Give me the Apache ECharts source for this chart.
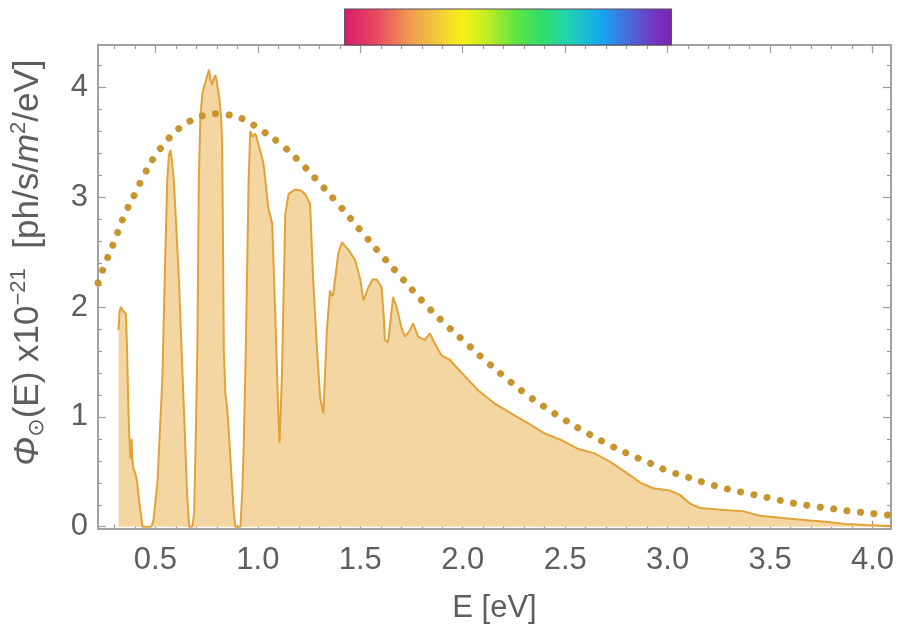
<!DOCTYPE html>
<html><head><meta charset="utf-8">
<script src="https://cdn.jsdelivr.net/npm/echarts@6/dist/echarts.min.js"></script>
<style>html,body{margin:0;padding:0;background:#fff}#c{width:904px;height:638px}</style>
</head><body><div id="c"></div>
<script>
// Measured solar spectrum (E in eV, flux x1e-21)
const spectrumE = [0.32,0.325,0.331,0.34,0.356,0.362,0.368,0.372,0.378,0.384,0.388,0.394,0.40,0.41,0.42,0.437,0.48,0.49,0.51,0.534,0.55,0.558,0.566,0.573,0.58,0.59,0.60,0.615,0.63,0.64,0.655,0.665,0.68,0.689,0.697,0.705,0.712,0.72,0.73,0.737,0.745,0.752,0.761,0.768,0.777,0.785,0.793,0.80,0.812,0.82,0.826,0.83,0.834,0.842,0.85,0.858,0.87,0.882,0.89,0.915,0.925,0.931,0.94,0.947,0.955,0.963,0.975,0.988,1.0,1.015,1.028,1.04,1.05,1.07,1.085,1.10,1.106,1.117,1.134,1.15,1.182,1.21,1.23,1.255,1.27,1.288,1.304,1.32,1.337,1.352,1.362,1.368,1.393,1.41,1.442,1.474,1.50,1.515,1.54,1.56,1.58,1.604,1.615,1.62,1.636,1.66,1.677,1.70,1.717,1.74,1.758,1.782,1.815,1.84,1.863,1.896,1.936,1.995,2.076,2.157,2.238,2.32,2.40,2.48,2.56,2.64,2.72,2.80,2.868,2.93,3.01,3.06,3.11,3.16,3.29,3.37,3.45,3.56,3.68,3.77,3.87,3.97,4.05,4.09];
const spectrumFlux = [1.79,1.95,2.0,1.97,1.94,1.6,1.1,0.85,0.62,0.8,0.6,0.52,0.5,0.42,0.25,0.0,0.0,0.05,0.4,1.34,2.6,3.15,3.38,3.43,3.35,3.15,2.8,2.25,1.5,1.03,0.3,0.0,0.0,0.12,0.8,1.64,3.15,3.75,3.95,4.0,4.05,4.1,4.16,4.08,4.02,4.08,4.11,4.05,3.9,3.75,3.5,2.6,1.6,1.2,1.09,0.88,0.5,0.15,0.0,0.0,0.35,0.73,1.5,2.25,3.15,3.6,3.55,3.58,3.5,3.4,3.3,3.1,2.91,2.76,1.94,1.03,0.76,1.34,2.85,3.03,3.07,3.06,3.03,2.94,2.25,1.64,1.18,1.03,1.79,2.15,2.1,2.12,2.49,2.59,2.52,2.43,2.25,2.06,2.18,2.25,2.25,2.18,1.9,1.70,1.68,2.09,2.0,1.82,1.73,1.78,1.85,1.73,1.70,1.76,1.67,1.56,1.52,1.40,1.24,1.12,1.03,0.94,0.85,0.79,0.71,0.67,0.59,0.49,0.40,0.35,0.33,0.29,0.21,0.17,0.15,0.14,0.10,0.08,0.06,0.045,0.025,0.015,0.01,0.008];
// Blackbody (dotted) curve
const planckE = [0.22,0.25,0.30,0.35,0.40,0.45,0.50,0.55,0.60,0.65,0.70,0.75,0.80,0.85,0.90,0.95,1.0,1.1,1.2,1.3,1.4,1.5,1.6,1.7,1.8,1.9,2.0,2.1,2.2,2.3,2.4,2.5,2.6,2.7,2.8,2.9,3.0,3.1,3.2,3.3,3.4,3.5,3.6,3.7,3.8,3.9,4.0,4.09];
const planckFlux = [2.22,2.37,2.60,2.84,3.03,3.22,3.38,3.50,3.60,3.67,3.72,3.75,3.76,3.75,3.73,3.69,3.63,3.50,3.33,3.13,2.92,2.70,2.48,2.27,2.06,1.87,1.70,1.53,1.37,1.22,1.09,0.97,0.86,0.76,0.67,0.59,0.51,0.45,0.39,0.34,0.30,0.26,0.22,0.19,0.165,0.14,0.12,0.105];
const xMajorTicks = [0.5,1.0,1.5,2.0,2.5,3.0,3.5,4.0];
const xMinorTicks = [0.3,0.4,0.6,0.7,0.8,0.9,1.1,1.2,1.3,1.4,1.6,1.7,1.8,1.9,2.1,2.2,2.3,2.4,2.6,2.7,2.8,2.9,3.1,3.2,3.3,3.4,3.6,3.7,3.8,3.9,4.0];
const yMajorTicks = [0,1,2,3,4];
const yMinorTicks = [0.2,0.4,0.6,0.8,1.2,1.4,1.6,1.8,2.2,2.4,2.6,2.8,3.2,3.4,3.6,3.8,4.2];
const xRange = [0.22, 4.09];
const yRange = [-0.016, 4.385];
const colorbarE = [1.424, 3.018];

const FONT = 'Liberation Sans, Arial, DejaVu Sans, sans-serif';
const TXT = '#5e5e5e';
const FRAME = '#9c9c9c';

function xAx(pos, ticks, len, labels) {
  return {
    type: 'value', position: pos, min: xRange[0], max: xRange[1],
    axisLine: { show: true, onZero: false, lineStyle: { color: FRAME, width: 1.5 } },
    axisTick: { show: true, inside: true, length: len, customValues: ticks, lineStyle: { color: FRAME, width: 1.2 } },
    axisLabel: labels ? { show: true, customValues: ticks, formatter: v => v.toFixed(1), fontSize: 31, color: TXT, fontFamily: FONT, margin: 16 } : { show: false },
    splitLine: { show: false }
  };
}
function yAx(pos, ticks, len, labels) {
  return {
    type: 'value', position: pos, min: yRange[0], max: yRange[1],
    axisLine: { show: true, onZero: false, lineStyle: { color: FRAME, width: 1.5 } },
    axisTick: { show: true, inside: true, length: len, customValues: ticks, lineStyle: { color: FRAME, width: 1.2 } },
    axisLabel: labels ? { show: true, customValues: ticks, formatter: v => String(v), fontSize: 31, color: TXT, fontFamily: FONT, margin: 10 } : { show: false },
    splitLine: { show: false }
  };
}

const xAxes = [xAx('bottom', xMajorTicks, 8, true), xAx('bottom', xMinorTicks, 4, false), xAx('top', xMajorTicks, 8, false), xAx('top', xMinorTicks, 4, false)];
Object.assign(xAxes[0], {
  name: 'E [eV]', nameLocation: 'middle', nameGap: 64,
  nameTextStyle: { fontSize: 31, color: TXT, fontFamily: FONT }
});
const yAxes = [yAx('left', yMajorTicks, 8, true), yAx('left', yMinorTicks, 4, false), yAx('right', yMajorTicks, 8, false), yAx('right', yMinorTicks, 4, false)];
Object.assign(yAxes[0], {
  name: '{it|Φ}{sub|⊙}{n|(E) x10}{sup|−21}{n|  [ph/s/}{it|m}{sup|2}{n|/eV]}',
  nameLocation: 'middle', nameRotate: 90, nameGap: 50,
  nameTextStyle: {
    color: TXT, fontFamily: FONT, fontSize: 35, padding: [0, 0, 0, 48],
    rich: {
      n: { fontSize: 35, color: TXT, fontFamily: FONT, lineHeight: 40 },
      it: { fontSize: 35, color: TXT, fontFamily: FONT, fontStyle: 'italic', lineHeight: 40 },
      sup: { fontSize: 22, color: TXT, fontFamily: FONT, verticalAlign: 'top', lineHeight: 40, padding: [0, 0, 16, 0] },
      sub: { fontSize: 22, color: TXT, fontFamily: 'DejaVu Sans, sans-serif', verticalAlign: 'bottom', lineHeight: 40, padding: [12, 0, 0, 0] }
    }
  }
});

const chart = echarts.init(document.getElementById('c'), null, { renderer: 'canvas' });
const option = {
  animation: false,
  backgroundColor: '#ffffff',
  grid: { left: 96, right: 13, top: 45, bottom: 109.5, containLabel: false },
  xAxis: xAxes,
  yAxis: yAxes,
  series: [
    {
      type: 'line', xAxisIndex: 0, yAxisIndex: 0, symbol: 'none', z: 2,
      data: spectrumE.map((e, i) => [e, spectrumFlux[i]]),
      lineStyle: { color: '#e2a23a', width: 2 },
      areaStyle: { color: '#f4d6a2', opacity: 1 }
    },
    {
      type: 'line', xAxisIndex: 0, yAxisIndex: 0, symbol: 'none', smooth: true, z: 3,
      data: planckE.map((e, i) => [e, planckFlux[i]]),
      lineStyle: { color: '#c8942e', width: 7, type: [0.01, 13.5], cap: 'round' }
    }
  ]
};
chart.setOption(option);

const x0 = chart.convertToPixel({ xAxisIndex: 0 }, colorbarE[0]);
const x1 = chart.convertToPixel({ xAxisIndex: 0 }, colorbarE[1]);
const yTop = chart.convertToPixel({ yAxisIndex: 0 }, yRange[1]);
chart.setOption({
  graphic: [{
    type: 'rect', z: 10,
    shape: { x: x0, y: 9, width: x1 - x0, height: yTop - 9 },
    style: {
      fill: new echarts.graphic.LinearGradient(0, 0, 1, 0, [
        { offset: 0, color: '#d81a6c' },
        { offset: 0.1, color: '#ea4a62' },
        { offset: 0.2, color: '#f09a50' },
        { offset: 0.28, color: '#f2c63c' },
        { offset: 0.36, color: '#f8f016' },
        { offset: 0.44, color: '#bcee22' },
        { offset: 0.52, color: '#62e640' },
        { offset: 0.6, color: '#30de68' },
        { offset: 0.68, color: '#22d4b0' },
        { offset: 0.78, color: '#14aaee' },
        { offset: 0.87, color: '#4a68da' },
        { offset: 0.95, color: '#7434c0' },
        { offset: 1, color: '#7e22b2' }
      ]),
      stroke: '#5a4a5a', lineWidth: 1.2
    }
  }]
});
</script></body></html>
